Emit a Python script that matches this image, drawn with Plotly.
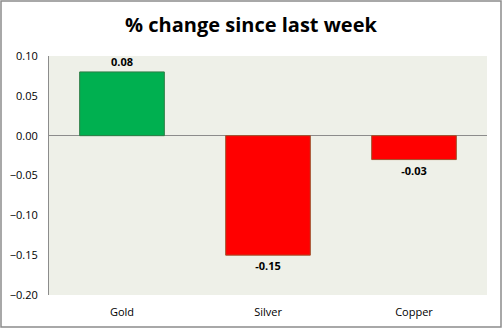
import plotly.graph_objects as go

metals = ["Gold", "Silver", "Copper"]
changes = [0.08, -0.15, -0.03]
bar_colors = ["#00B050", "#FF0000", "#FF0000"]
edge_colors = ["#2E7D46", "#A0522D", "#A0522D"]
tick_vals = [0.10, 0.05, 0.00, -0.05, -0.10, -0.15, -0.20]

W, H = 502, 328
ml, mr, mt, mb = 49, 15, 56, 33

fig = go.Figure(go.Bar(
    x=metals, y=changes,
    marker=dict(color=bar_colors, line=dict(color=edge_colors, width=1)),
    width=0.58,
    text=[f"{v:.2f}" for v in changes],
    textposition="outside",
    textfont=dict(family="Open Sans", size=11, color="black", weight="bold"),
    cliponaxis=False,
))

pw, ph = W - ml - mr, H - mt - mb
fig.add_shape(type="rect", xref="paper", yref="paper",
              x0=-(ml - 1) / pw, x1=1 + (mr - 1) / pw,
              y0=-(mb - 1) / ph, y1=1 + (mt - 1) / ph,
              line=dict(color="#8C8C8C", width=1.5), layer="below")

fig.update_layout(
    width=W, height=H,
    margin=dict(l=ml, r=mr, t=mt, b=mb),
    paper_bgcolor="white", plot_bgcolor="#EEF0E8",
    showlegend=False,
    title=dict(text="% change since last week", x=0.5, xref="container", xanchor="center",
               y=1 - 25 / H, yanchor="middle",
               font=dict(family="Open Sans", size=20, color="black", weight="bold")),
    xaxis=dict(showgrid=False, showline=False, ticks="", ticklabelstandoff=9,
               automargin=False,
               tickfont=dict(family="Open Sans", size=11, color="black")),
    yaxis=dict(range=[-0.20, 0.10], tickvals=tick_vals, tickformat=".2f",
               showgrid=False, showline=True, linecolor="#8C8C8C", linewidth=1,
               zeroline=True, zerolinecolor="#8C8C8C", zerolinewidth=1,
               ticks="", ticklen=0, ticklabelstandoff=8, automargin=False,
               tickfont=dict(family="Open Sans", size=11, color="black")),
)

fig.write_html("out.html")
